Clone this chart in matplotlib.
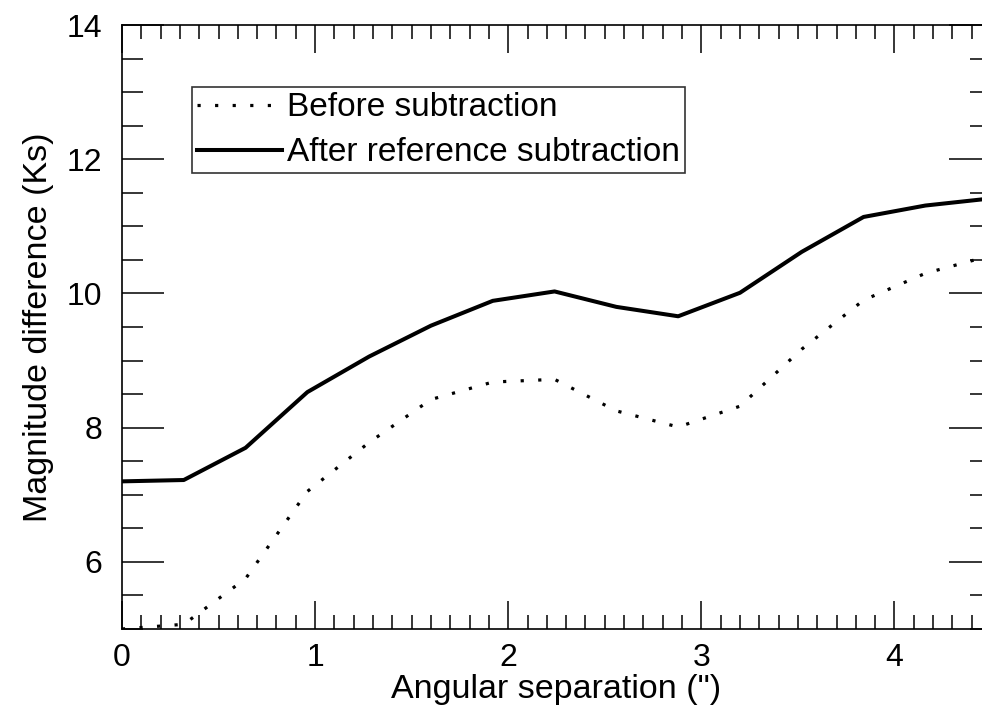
import matplotlib.pyplot as plt
import numpy as np
from matplotlib.ticker import MultipleLocator

plt.rcParams['font.family'] = ['Liberation Sans', 'DejaVu Sans']

# angular separation (arcsec) and magnitude differences
sep = [0.0, 0.32, 0.64, 0.96, 1.28, 1.60, 1.92, 2.24, 2.56, 2.88, 3.20, 3.52, 3.84, 4.16, 4.48]
before = [5.00, 5.07, 5.75, 7.05, 7.78, 8.42, 8.68, 8.72, 8.25, 8.01, 8.32, 9.17, 9.90, 10.30, 10.55]
after = [7.20, 7.22, 7.70, 8.53, 9.06, 9.52, 9.89, 10.03, 9.80, 9.66, 10.01, 10.62, 11.14, 11.31, 11.41]

fig = plt.figure(figsize=(9.82, 7.21), dpi=100)
ax = fig.add_axes([0.1242, 0.1276, 0.885, 0.8377])

ax.plot(sep, before, color='black', lw=2.3, linestyle=(0, (1, 4.5)), label='Before subtraction')
ax.plot(sep, after, color='black', lw=2.9, label='After reference subtraction')

ax.set_xlim(0, 4.5)
ax.set_ylim(5, 14)
ax.xaxis.set_major_locator(MultipleLocator(1))
ax.xaxis.set_minor_locator(MultipleLocator(0.1))
ax.yaxis.set_major_locator(MultipleLocator(2))
ax.yaxis.set_minor_locator(MultipleLocator(0.5))

ax.tick_params(axis='both', which='both', direction='in', top=True, right=True,
               width=1.1, labelsize=23)
ax.tick_params(axis='x', which='major', length=20, pad=10)
ax.tick_params(axis='x', which='minor', length=10)
ax.tick_params(axis='y', which='major', length=30, pad=14)
ax.tick_params(axis='y', which='minor', length=15)
for s in ax.spines.values():
    s.set_linewidth(1.2)

ax.set_xlabel('Angular separation (")', fontsize=24.5, labelpad=1)
ax.set_ylabel('Magnitude difference (Ks)', fontsize=24.5, labelpad=9)

leg = ax.legend(loc='upper left', bbox_to_anchor=(0.0806, 0.897), borderaxespad=0,
                fontsize=24, frameon=True, fancybox=False, edgecolor='black',
                handlelength=2.55, handletextpad=0.15, labelspacing=0.42,
                borderpad=0.15)
leg.get_frame().set_linewidth(1.2)

fig.savefig('out.png', dpi=100)
